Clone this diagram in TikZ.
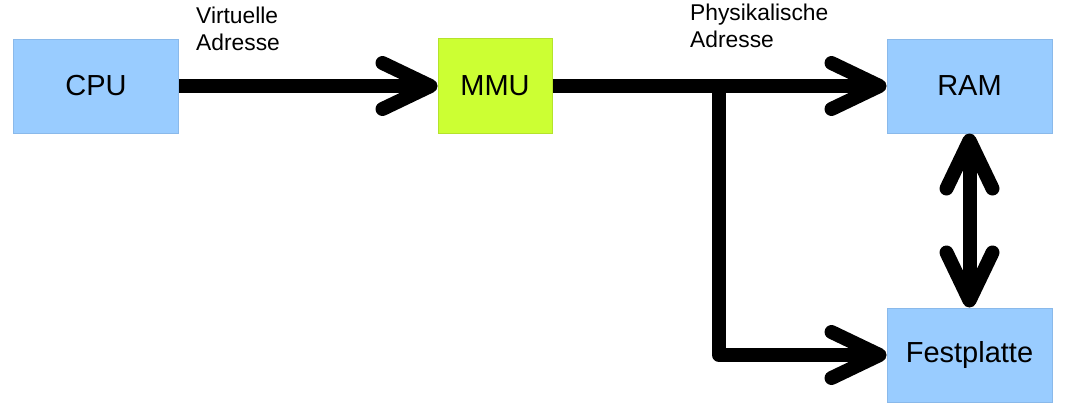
\documentclass[tikz,border=0pt]{standalone}
\usepackage{fontspec}
\setmainfont{Liberation Sans}
\usetikzlibrary{arrows.meta}
\definecolor{boxblue}{HTML}{99CCFF}
\definecolor{boxblueline}{HTML}{8AB9EA}
\definecolor{boxlime}{HTML}{CCFF33}
\definecolor{boxlimeline}{HTML}{B5E32C}
\begin{document}
\begin{tikzpicture}[x=1pt,y=-1pt,
  unit/.style={draw=boxblueline,fill=boxblue,line width=1pt,minimum width=165pt,minimum height=94pt,inner sep=0pt,font=\fontsize{29}{34}\selectfont},
  mmubox/.style={unit,draw=boxlimeline,fill=boxlime,minimum width=114pt,minimum height=95pt},
  lbl/.style={anchor=north west,align=left,inner sep=0pt,font=\fontsize{22.8}{26.5}\selectfont},
  conn/.style={line width=14pt,line join=round,-{Straight Barb[length=48pt,width=46pt,line cap=round,line join=round]}},
  conn2/.style={line width=14pt,{Straight Barb[length=48pt,width=46pt,line cap=round,line join=round]}-{Straight Barb[length=48pt,width=46pt,line cap=round,line join=round]}}
]
\useasboundingbox (0,0) rectangle (1070,413);
\node[unit] (cpu) at (96,86) {CPU};
\node[mmubox] (mmu) at (495,86) {MMU};
\node[unit] (ram) at (969.5,86) {RAM};
\node[unit] (fest) at (969.5,355) {Festplatte};
\node[lbl] (lv) at (196,7) {Virtuelle\\Adresse};
\node[lbl] (lp) at (690,4) {Physikalische\\Adresse};
\coordinate (br) at (719,86);
\draw[conn] (cpu) -- (mmu);
\draw[conn] (mmu) -- (ram);
\draw[conn] (br) |- (fest);
\draw[conn2] (ram) -- (fest);
\end{tikzpicture}
\end{document}
